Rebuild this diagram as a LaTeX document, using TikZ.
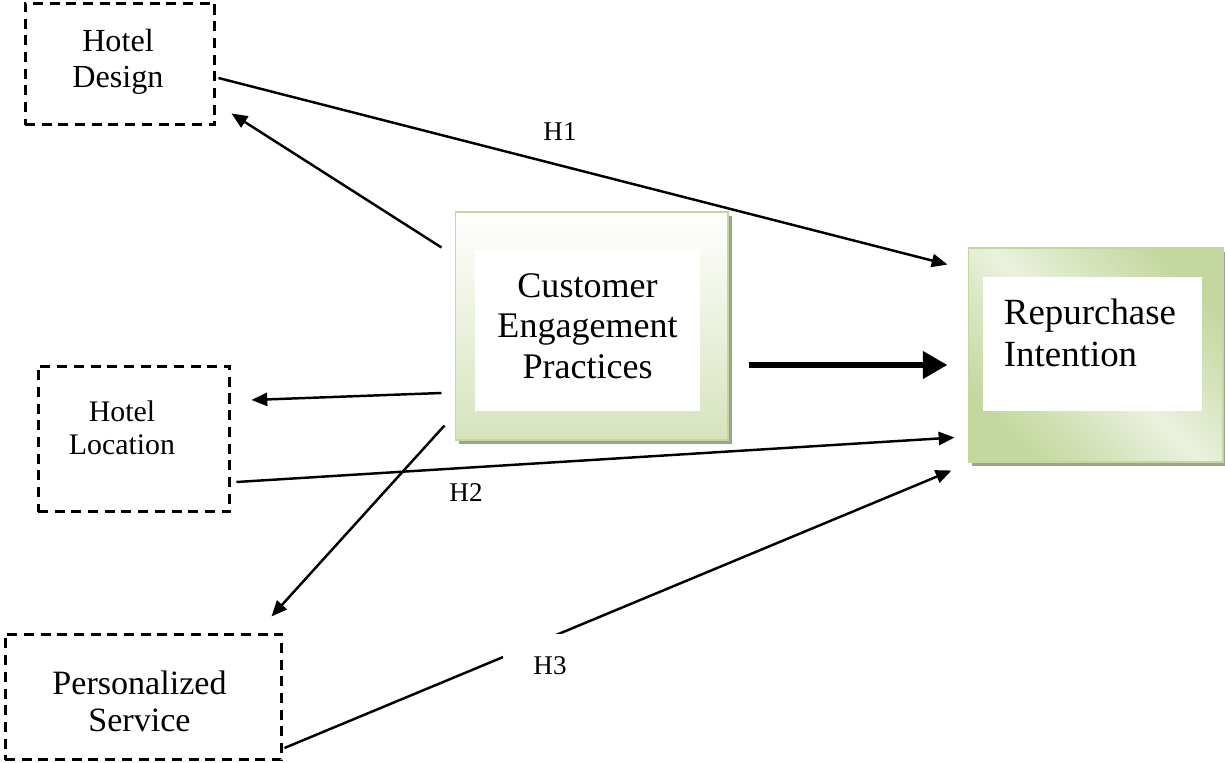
\documentclass[tikz,border=0pt]{standalone}
\usepackage{fontspec}
\setmainfont{Liberation Serif}
\usepackage{xcolor}
\usetikzlibrary{arrows.meta,shadows}
\definecolor{greenL}{RGB}{234,241,222}
\definecolor{greenM}{RGB}{196,215,158}
\definecolor{greenB}{RGB}{214,227,188}
\definecolor{shadowC}{RGB}{155,165,135}
\tikzset{%
  tipA/.tip={Triangle[length=9pt,width=7.5pt]},
  tipB/.tip={Triangle[length=14pt,width=15pt]},
  dashbox/.style={draw, dash pattern=on 5.7pt off 3.8pt, line width=1.7pt, inner sep=0pt},
  greenbox/.style={draw=greenM, line width=.6pt, inner sep=0pt,
    general shadow={fill=shadowC, shadow xshift=2.3pt, shadow yshift=-2.3pt}},
  whitebox/.style={fill=white, inner sep=0pt, align=center},
  lbl/.style={align=center, inner sep=0pt},
  conn/.style={line width=1.4pt, -tipA},
  thickconn/.style={line width=3.4pt, -tipB}
}

\begin{document}
\begin{tikzpicture}[x=0.02cm,y=-0.02cm]
\useasboundingbox (0,0) rectangle (1225,763);
% dashed boxes
\node[dashbox, minimum width=3.8cm, minimum height=2.44cm] (hd) at (120,64) {};
\node[dashbox, minimum width=3.84cm, minimum height=2.92cm] (hl) at (134,439) {};
\node[dashbox, minimum width=5.54cm, minimum height=2.52cm] (ps) at (143.5,697) {};
\node[lbl, font=\fontsize{18.3}{20.5}\selectfont] (hdT) at ([shift={(-2,-2)}]hd) {Hotel\\Design};
\node[lbl, font=\fontsize{17}{18.8}\selectfont] (hlT) at ([shift={(-12,-11)}]hl) {Hotel\\Location};
\node[lbl, font=\fontsize{19.4}{21}\selectfont] (psT) at ([shift={(-4,4)}]ps) {Personalized\\Service};
% green boxes
\node[greenbox, top color=white, bottom color=greenB, minimum width=5.46cm, minimum height=4.56cm] (cep) at (591.5,326) {};
\node[whitebox, minimum width=4.5cm, minimum height=3.22cm] (cepB) at (587.5,330.5) {};
\node[lbl, font=\fontsize{20.5}{23}\selectfont] (cepT) at (587.5,326) {Customer\\Engagement\\Practices};
\node[greenbox, shading=axis, top color=greenM, bottom color=greenM, middle color=greenL, shading angle=-45, minimum width=5.1cm, minimum height=4.28cm] (ri) at (1095.5,355) {};
\node[whitebox, minimum width=4.38cm, minimum height=2.68cm] (riB) at (1092.5,344) {};
\node[lbl, align=left, font=\fontsize{21}{24}\selectfont] (riT) at (1090,333) {Repurchase\\Intention};
% arrows
\draw[conn] ([shift={(-13,36)}]cep.north west) -- ([shift={(15,-13)}]hd.south east);
\draw[conn] ([shift={(-13,67)}]cep.west) -- ([shift={(20,-39)}]hl.east);
\draw[conn] ([shift={(-10,-15)}]cep.south west) -- ([shift={(-12,-16)}]ps.north east);
\draw[thickconn] ([shift={(20,39)}]cep.east) -- ([shift={(-20,10)}]ri.west);
\draw[conn] ([shift={(2,14)}]hd.east) -- ([shift={(-20,17)}]ri.north west);
\draw[conn] ([shift={(5,43)}]hl.east) -- ([shift={(-13,-25)}]ri.south west);
\draw[conn] ([shift={(1,51)}]ps.east) -- ([shift={(-16,8)}]ri.south west);
% hypotheses
\node[lbl, font=\fontsize{15.4}{17}\selectfont] (h1) at (560,132) {H1};
\node[lbl, font=\fontsize{15.4}{17}\selectfont] (h2) at (466,493) {H2};
\node[lbl, fill=white, minimum width=1.9cm, minimum height=1.3cm, font=\fontsize{15.4}{17}\selectfont] (h3) at (550,666) {H3};
\end{tikzpicture}
\end{document}
